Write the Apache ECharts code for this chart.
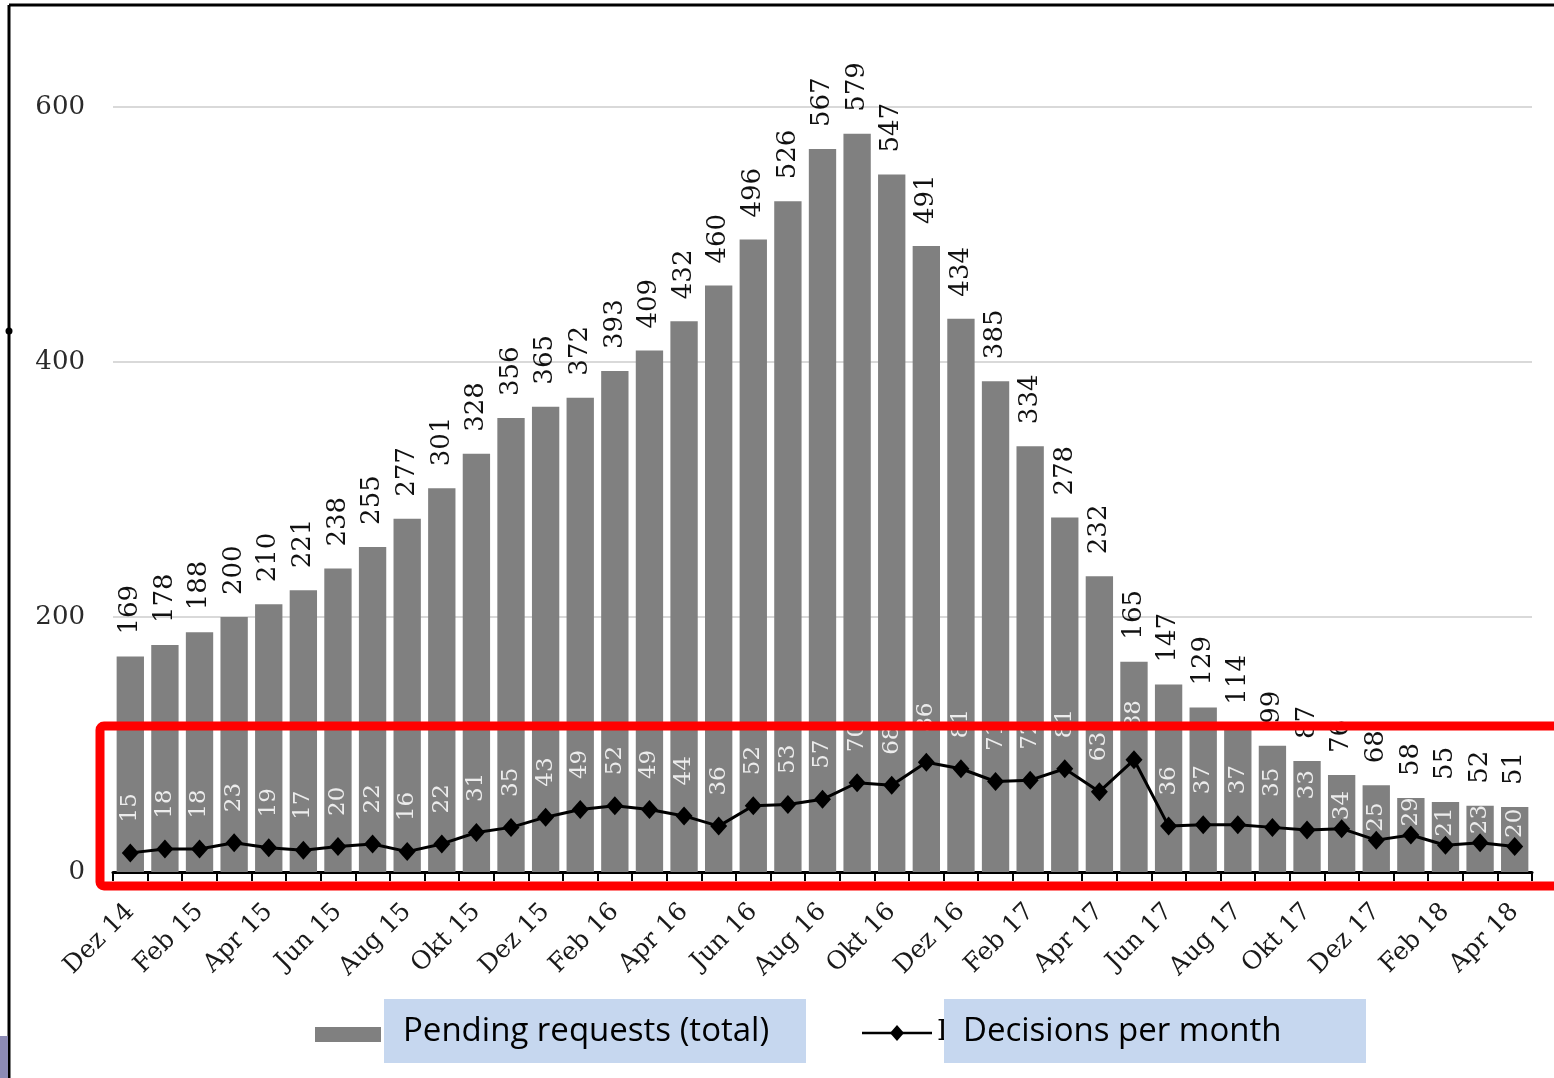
<!DOCTYPE html>
<html>
<head>
<meta charset="utf-8">
<script src="https://cdn.jsdelivr.net/npm/echarts@6/dist/echarts.min.js"></script>
<style>
  html, body { margin: 0; padding: 0; background: #fff; }
  #chart { width: 1554px; height: 1078px; }
</style>
</head>
<body>
<div id="chart"></div>
<script>
// Monthly periods, Dec 2014 – Apr 2018
const months = [
  'Dez 14',
  'Jan 15', 'Feb 15', 'Mrz 15', 'Apr 15', 'Mai 15', 'Jun 15', 'Jul 15', 'Aug 15', 'Sep 15', 'Okt 15', 'Nov 15', 'Dez 15',
  'Jan 16', 'Feb 16', 'Mrz 16', 'Apr 16', 'Mai 16', 'Jun 16', 'Jul 16', 'Aug 16', 'Sep 16', 'Okt 16', 'Nov 16', 'Dez 16',
  'Jan 17', 'Feb 17', 'Mrz 17', 'Apr 17', 'Mai 17', 'Jun 17', 'Jul 17', 'Aug 17', 'Sep 17', 'Okt 17', 'Nov 17', 'Dez 17',
  'Jan 18', 'Feb 18', 'Mrz 18', 'Apr 18'
];

// Pending requests at month end (total)
const pendingTotal = [
  169, 178, 188, 200, 210, 221, 238, 255, 277, 301, 328, 356, 365,
  372, 393, 409, 432, 460, 496, 526, 567, 579, 547, 491, 434,
  385, 334, 278, 232, 165, 147, 129, 114, 99, 87, 76, 68,
  58, 55, 52, 51
];

// Decisions issued per month
const decisionsPerMonth = [
  15, 18, 18, 23, 19, 17, 20, 22, 16, 22, 31, 35, 43,
  49, 52, 49, 44, 36, 52, 53, 57, 70, 68, 86, 81,
  71, 72, 81, 63, 88, 36, 37, 37, 35, 33, 34, 25,
  29, 21, 23, 20
];

const yTicks = [0, 200, 400, 600];

const serif = '"DejaVu Serif", "Liberation Serif", serif';
const sans = '"Open Sans", "Liberation Sans", sans-serif';

// the last few value labels sit right on their markers so they stay inside the short bars
const decisionItems = decisionsPerMonth.map((v, i) => ({
  value: v,
  label: { distance: i >= 35 ? -1 : 21 }
}));

const chart = echarts.init(document.getElementById('chart'), null, { renderer: 'canvas' });

chart.setOption({
  backgroundColor: '#ffffff',
  animation: false,
  grid: { left: 113, right: 22, top: 107, bottom: 206, containLabel: false },
  xAxis: {
    type: 'category',
    data: months,
    boundaryGap: true,
    axisLine: { lineStyle: { color: '#000', width: 3 } },
    axisTick: { show: true, interval: 0, length: 9, lineStyle: { color: '#000', width: 2 } },
    axisLabel: {
      interval: 1,
      rotate: 45,
      margin: 36,
      color: '#1a1a1a',
      fontFamily: serif,
      fontSize: 25
    },
    splitLine: { show: false }
  },
  yAxis: {
    type: 'value',
    min: yTicks[0],
    max: yTicks[yTicks.length - 1],
    interval: 200,
    axisLine: { show: false },
    axisTick: { show: false },
    axisLabel: { margin: 28, color: '#2a2a2a', fontFamily: serif, fontSize: 26 },
    splitLine: { lineStyle: { color: '#d9d9d9', width: 2 } }
  },
  series: [
    {
      name: 'Pending requests (total)',
      type: 'bar',
      data: pendingTotal,
      barCategoryGap: '21%',
      itemStyle: { color: '#808080' },
      label: {
        show: true,
        position: 'top',
        rotate: 90,
        align: 'left',
        verticalAlign: 'middle',
        distance: 22,
        color: '#111',
        fontFamily: serif,
        fontSize: 26
      },
      z: 2
    },
    {
      name: 'Decisions per month',
      type: 'line',
      data: decisionItems,
      symbol: 'diamond',
      symbolSize: [17, 19],
      itemStyle: { color: '#000' },
      lineStyle: { color: '#000', width: 3 },
      label: {
        show: true,
        position: 'top',
        rotate: 90,
        align: 'left',
        verticalAlign: 'middle',
        color: '#ececec',
        fontFamily: serif,
        fontSize: 23
      },
      z: 3
    }
  ],
  graphic: [
    // outer frame
    { type: 'line', z: 50, shape: { x1: 9, y1: 5, x2: 1554, y2: 5 }, style: { stroke: '#000', lineWidth: 3 } },
    { type: 'line', z: 50, shape: { x1: 9, y1: 5, x2: 9, y2: 1078 }, style: { stroke: '#000', lineWidth: 3 } },
    { type: 'circle', z: 50, shape: { cx: 9, cy: 331, r: 3.5 }, style: { fill: '#000' } },
    { type: 'text', z: 49, left: -15, top: 317, style: { text: '0', fontFamily: serif, fontSize: 26, fill: '#333' } },
    { type: 'rect', z: 50, shape: { x: 0, y: 1036, width: 8, height: 42 }, style: { fill: '#8d8bb5' } },

    // highlight box round the lower band
    { type: 'rect', z: 60, shape: { x: 100, y: 726, width: 1480, height: 160, r: 4 },
      style: { fill: 'none', stroke: '#ff0000', lineWidth: 9 } },

    // legend: bar swatch
    { type: 'rect', z: 40, shape: { x: 315, y: 1027, width: 66, height: 15 }, style: { fill: '#808080' } },
    { type: 'rect', z: 41, shape: { x: 384, y: 999, width: 422, height: 64 }, style: { fill: '#c6d7ef' } },
    { type: 'text', z: 42, x: 403, y: 1032, style: { text: 'Pending requests (total)', fontFamily: sans, fontSize: 33, fill: '#000', verticalAlign: 'middle' } },

    // legend: line swatch with diamond
    { type: 'line', z: 40, shape: { x1: 862, y1: 1033, x2: 932, y2: 1033 }, style: { stroke: '#000', lineWidth: 2.5 } },
    { type: 'polygon', z: 40, shape: { points: [[897, 1025], [904, 1033], [897, 1041], [890, 1033]] }, style: { fill: '#000' } },
    { type: 'text', z: 39, x: 937, y: 1033, style: { text: 'D', fontFamily: serif, fontSize: 28, fill: '#000', verticalAlign: 'middle' } },
    { type: 'rect', z: 41, shape: { x: 944, y: 999, width: 422, height: 64 }, style: { fill: '#c6d7ef' } },
    { type: 'text', z: 42, x: 963, y: 1032, style: { text: 'Decisions per month', fontFamily: sans, fontSize: 33, fill: '#000', verticalAlign: 'middle' } }
  ]
});
</script>
</body>
</html>
